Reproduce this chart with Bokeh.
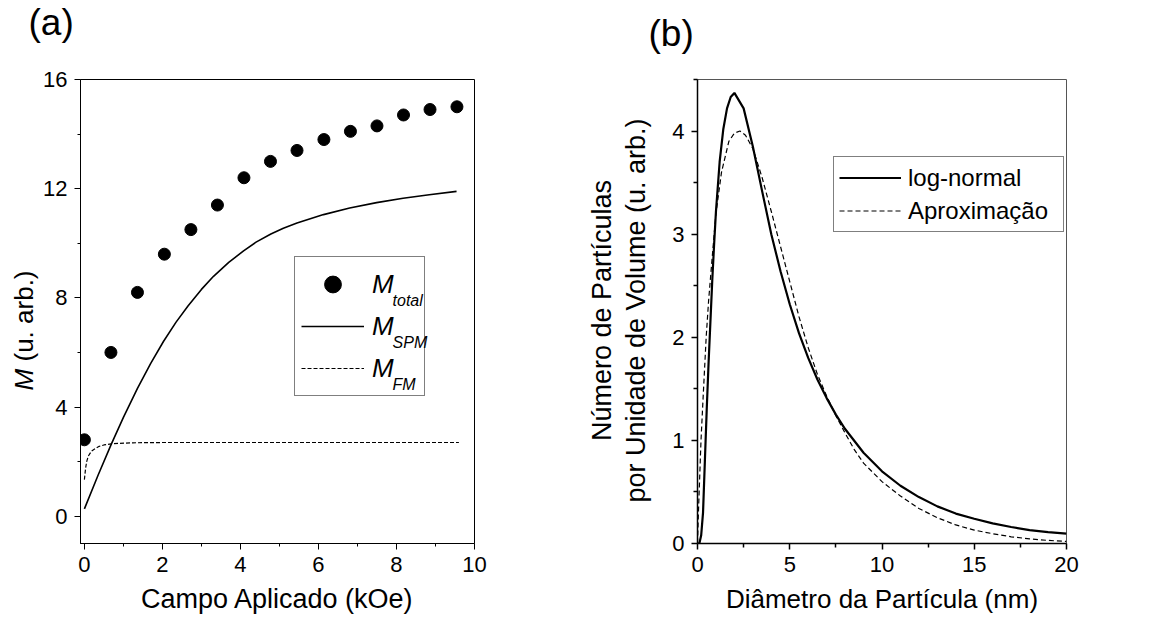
import numpy as np
from bokeh.plotting import figure
from bokeh.layouts import row, column
from bokeh.models import FixedTicker, Label, Range1d, Legend, LegendItem
from bokeh.core.properties import value
from bokeh.embed import file_html
from bokeh.resources import INLINE

FONT = "Liberation Sans"

# ---------------- Panel (a) data ----------------
field_total = [0, 0.68, 1.36, 2.05, 2.73, 3.41, 4.09, 4.77, 5.45, 6.14, 6.82, 7.5, 8.18, 8.86, 9.55]
m_total = [2.8, 6.0, 8.2, 9.6, 10.5, 11.4, 12.4, 13.0, 13.4, 13.8, 14.1, 14.3, 14.7, 14.9, 15.0]

field_spm = [0, 0.35, 0.69, 1.0, 1.36, 1.7, 2.03, 2.35, 2.66, 3.0, 3.31, 3.7, 4.08, 4.4,
             4.78, 5.1, 5.45, 6.13, 6.8, 7.49, 8.17, 8.84, 9.54]
m_spm = [0.27, 1.5, 2.64, 3.62, 4.68, 5.6, 6.41, 7.11, 7.71, 8.31, 8.79, 9.3, 9.72, 10.04,
         10.34, 10.55, 10.74, 11.05, 11.29, 11.49, 11.65, 11.78, 11.9]

field_fm = [0, 0.03, 0.06, 0.1, 0.18, 0.28, 0.38, 0.5, 0.69, 0.9, 1.24, 2, 4, 6, 8, 9.6]
m_fm = [1.34, 1.75, 2.01, 2.2, 2.38, 2.48, 2.56, 2.61, 2.65, 2.67, 2.69, 2.7, 2.7, 2.7, 2.7, 2.7]

xticks_a = [0, 2, 4, 6, 8, 10]
xminor_a = [1, 3, 5, 7, 9]
yticks_a = [0, 4, 8, 12, 16]
yminor_a = [2, 6, 10, 14]

# ---------------- Panel (b) data ----------------
diam_lognormal = [0, 0.1, 0.2, 0.3, 0.4, 0.5, 0.6, 0.7, 0.8, 0.9, 1.0, 1.2, 1.4, 1.6, 1.8, 2.0,
                  2.5, 3.0, 3.5, 4.0, 4.5, 5.0, 5.5, 6.0, 6.5, 7.0, 7.5, 8.0, 9.0, 10, 11, 12,
                  13, 14, 15, 16, 17, 18, 19, 20]
n_lognormal = [0, 0.0, 0.08, 0.3, 0.8, 1.3, 1.75, 2.15, 2.55, 2.9, 3.22, 3.7, 4.02, 4.22, 4.33, 4.37,
               4.22, 3.85, 3.42, 3.0, 2.64, 2.32, 2.04, 1.80, 1.59, 1.41, 1.25, 1.11, 0.88, 0.70,
               0.56, 0.45, 0.36, 0.29, 0.24, 0.195, 0.16, 0.13, 0.11, 0.095]

diam_aprox = [0, 0.05, 0.1, 0.19, 0.3, 0.47, 0.6, 0.78, 1.0, 1.3, 1.7, 2.0, 2.3, 2.6, 3.0,
              3.5, 4.0, 4.5, 5.0, 5.5, 6.0, 6.5, 7.0, 7.5, 8.0, 8.5, 9.0, 10, 11, 12, 13,
              14, 15, 16, 17, 18, 19, 20]
n_aprox = [0, 0.3, 0.55, 1.0, 1.4, 2.0, 2.35, 2.74, 3.2, 3.6, 3.9, 3.98, 4.0, 3.96, 3.83,
           3.55, 3.22, 2.88, 2.54, 2.2, 1.9, 1.64, 1.43, 1.24, 1.07, 0.91, 0.78, 0.6, 0.46,
           0.34, 0.25, 0.18, 0.13, 0.095, 0.065, 0.045, 0.03, 0.02]

xticks_b = [0, 5, 10, 15, 20]
xminor_b = [2.5, 7.5, 12.5, 17.5]
yticks_b = [0, 1, 2, 3, 4]
yminor_b = [0.5, 1.5, 2.5, 3.5, 4.5]


def style_axis(ax, label_size, tick_out, minor_out, line_width=1):
    ax.axis_line_color = "black"
    ax.axis_line_width = line_width
    ax.major_tick_line_color = "black"
    ax.minor_tick_line_color = "black"
    ax.major_tick_line_width = line_width
    ax.minor_tick_line_width = line_width
    ax.major_tick_in = 0
    ax.major_tick_out = tick_out
    ax.minor_tick_in = 0
    ax.minor_tick_out = minor_out
    ax.major_label_text_font = FONT
    ax.major_label_text_font_size = label_size
    ax.major_label_text_color = "black"
    ax.major_label_standoff = 7
    ax.axis_label_text_font = FONT
    ax.axis_label_text_font_style = "normal"
    ax.axis_label_text_color = "black"
    ax.axis_label_standoff = 9


TOP_H = 62
ROW_H = 625 - TOP_H
FRAME_TOP = 79      # page y of the plot frames' top edge
FRAME_BOTTOM = 543  # page y of the plot frames' bottom edge


def text_strip(width, height, border_top=0, border_bottom=0, y_lo=0, y_hi=None):
    if y_hi is None:
        y_hi = height
    s = figure(width=width, height=height, output_backend="svg", toolbar_location=None,
               x_range=Range1d(0, width), y_range=Range1d(y_lo, y_hi),
               x_axis_location=None, y_axis_location=None,
               min_border_left=0, min_border_right=0,
               min_border_top=border_top, min_border_bottom=border_bottom)
    s.grid.visible = False
    s.outline_line_color = None
    s.background_fill_color = "white"
    s.border_fill_color = "white"
    return s


# ================= top strip with panel tags =================
top = text_strip(1163, TOP_H)
top.text(x=[28, 648], y=[TOP_H - 22, TOP_H - 33], text=["(a)", "(b)"],
         text_font=value(FONT), text_font_size=value("37px"), text_color="black",
         text_align="left", text_baseline="middle")

# strips in the lower row share the frames' vertical extent; data y = 625 - page y
STRIP_KW = dict(border_top=FRAME_TOP - TOP_H, border_bottom=625 - FRAME_BOTTOM,
                y_lo=625 - FRAME_BOTTOM, y_hi=625 - FRAME_TOP)

# ================= left strip: y label of panel (a) =================
strip_a = text_strip(40, ROW_H, **STRIP_KW)
strip_a.text(x=[23], y=[625 - 390], text=["M"], angle=np.pi / 2,
             text_font=value(FONT), text_font_style="italic", text_font_size=value("26px"),
             text_color="black", text_align="left", text_baseline="middle")
strip_a.text(x=[23], y=[625 - 361], text=["(u. arb.)"], angle=np.pi / 2,
             text_font=value(FONT), text_font_size=value("26px"),
             text_color="black", text_align="left", text_baseline="middle")

# ================= Panel (a) =================
pa = figure(width=520, height=ROW_H, output_backend="svg", toolbar_location=None,
            x_range=Range1d(-0.1, 10), y_range=Range1d(-1, 16),
            min_border_left=40, min_border_right=86, min_border_top=FRAME_TOP - TOP_H,
            min_border_bottom=625 - FRAME_BOTTOM)
pa.grid.visible = False
pa.outline_line_color = "black"
pa.outline_line_width = 1
pa.background_fill_color = "white"
pa.border_fill_color = "white"

pa.xaxis.ticker = FixedTicker(ticks=xticks_a, minor_ticks=xminor_a)
pa.yaxis.ticker = FixedTicker(ticks=yticks_a, minor_ticks=yminor_a)
style_axis(pa.xaxis[0], "22px", 6, 3)
style_axis(pa.yaxis[0], "22px", 6, 3)
pa.xaxis.axis_label = "Campo Aplicado (kOe)"
pa.xaxis.axis_label_text_font_size = "27px"

r_total = pa.scatter(field_total, m_total, marker="circle", size=12, fill_color="black", line_color="black")
r_spm = pa.line(field_spm, m_spm, line_color="black", line_width=1.6)
r_fm = pa.line(field_fm, m_fm, line_color="black", line_width=1.2, line_dash="4 2")

leg_a = Legend(items=[LegendItem(label="M", renderers=[r_total]),
                      LegendItem(label="M", renderers=[r_spm]),
                      LegendItem(label="M", renderers=[r_fm])],
               location=(214, 147), orientation="vertical",
               label_text_font=FONT, label_text_font_style="italic", label_text_font_size="26px",
               label_text_color="black", label_standoff=8, label_width=46,
               label_height=42, glyph_height=42, glyph_width=63, spacing=0, padding=6, margin=0,
               border_line_color="black", border_line_width=1,
               background_fill_color="white", background_fill_alpha=0)
pa.add_layout(leg_a, "center")

for txt, yy in [("total", 7.92), ("SPM", 6.38), ("FM", 4.84)]:
    pa.add_layout(Label(x=7.9, y=yy, text=txt, text_align="left", text_baseline="middle",
                        text_font=FONT, text_font_style="italic", text_font_size="16px",
                        text_color="black", level="overlay"))

# ================= strip with y label of panel (b) =================
strip_b = text_strip(95, ROW_H, **STRIP_KW)
strip_b.text(x=[41, 75], y=[625 - 310, 625 - 310],
             text=["Número de Partículas", "por Unidade de Volume (u. arb.)"], angle=np.pi / 2,
             text_font=value(FONT), text_font_size=value("27px"), text_color="black",
             text_align="center", text_baseline="middle")

# ================= Panel (b) =================
pb = figure(width=508, height=ROW_H, output_backend="svg", toolbar_location=None,
            x_range=Range1d(0, 20), y_range=Range1d(0, 4.5),
            min_border_left=42, min_border_right=97, min_border_top=FRAME_TOP - TOP_H,
            min_border_bottom=625 - FRAME_BOTTOM)
pb.grid.visible = False
pb.outline_line_color = "#555555"
pb.outline_line_width = 1
pb.background_fill_color = "white"
pb.border_fill_color = "white"

pb.xaxis.ticker = FixedTicker(ticks=xticks_b, minor_ticks=xminor_b)
pb.yaxis.ticker = FixedTicker(ticks=yticks_b, minor_ticks=yminor_b)
style_axis(pb.xaxis[0], "22px", 6, 4, line_width=1.5)
style_axis(pb.yaxis[0], "22px", 6, 4, line_width=1.5)
pb.xaxis.axis_label = "Diâmetro da Partícula (nm)"
pb.xaxis.axis_label_text_font_size = "26px"

r_ln = pb.line(diam_lognormal, n_lognormal, line_color="black", line_width=2.2)
r_ap = pb.line(diam_aprox, n_aprox, line_color="black", line_width=1.2, line_dash="5 3")

leg_b = Legend(items=[LegendItem(label="log-normal", renderers=[r_ln]),
                      LegendItem(label="Aproximação", renderers=[r_ap])],
               location=(136, 311), orientation="vertical",
               label_text_font=FONT, label_text_font_size="24px", label_text_color="black",
               label_standoff=7, label_width=150, label_height=31, glyph_height=31, glyph_width=62,
               spacing=2, padding=5, margin=0,
               border_line_color="black", border_line_width=1, background_fill_alpha=1)
pb.add_layout(leg_b, "center")

layout = column(top, row(strip_a, pa, strip_b, pb))
open("out.html", "w").write(file_html(layout, INLINE))
